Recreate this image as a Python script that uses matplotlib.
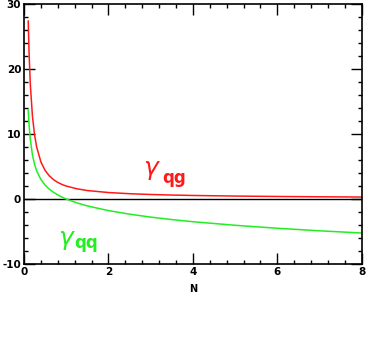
import matplotlib
matplotlib.use("Agg")
import matplotlib.pyplot as plt
from matplotlib.ticker import MultipleLocator

plt.rcParams["axes.unicode_minus"] = False

# values
N = [0.1, 0.12, 0.15, 0.2, 0.25, 0.3, 0.4, 0.5, 0.6, 0.7, 0.8, 0.9, 1.0,
     1.25, 1.5, 2.0, 2.5, 3.0, 3.5, 4.0, 5.0, 6.0, 7.0, 8.0]
gamma_qg = [27.40, 22.47, 17.57, 12.73, 9.87, 7.99, 5.71, 4.40, 3.56, 2.98,
            2.56, 2.24, 2.00, 1.58, 1.31, 1.00, 0.82, 0.70, 0.615, 0.55,
            0.457, 0.393, 0.345, 0.308]
gamma_qq = [13.71, 11.44, 9.14, 6.79, 5.33, 4.33, 3.01, 2.14, 1.51, 1.03,
            0.63, 0.29, 0.0, -0.59, -1.06, -1.78, -2.33, -2.78, -3.16, -3.49,
            -4.04, -4.50, -4.89, -5.23]

red = "#ff1a1a"
green = "#22ee22"

fig = plt.figure(figsize=(3.66, 3.46), dpi=100)
ax = fig.add_axes([0.0656, 0.237, 0.923, 0.751])

ax.axhline(0, color="black", lw=1.0)
ax.plot(N, gamma_qg, color=red, lw=1.1)
ax.plot(N, gamma_qq, color=green, lw=1.1)

ax.set_xlim(0, 8)
ax.set_ylim(-10, 30)
ax.xaxis.set_major_locator(MultipleLocator(2))
ax.xaxis.set_minor_locator(MultipleLocator(0.4))
ax.yaxis.set_major_locator(MultipleLocator(10))
ax.yaxis.set_minor_locator(MultipleLocator(2))
ax.tick_params(which="both", direction="in", top=True, right=True,
               width=1.0, labelsize=7.5, pad=2)
ax.tick_params(which="major", length=8)
ax.tick_params(which="minor", length=3)
for lab in ax.get_xticklabels() + ax.get_yticklabels():
    lab.set_fontweight("bold")
for s in ax.spines.values():
    s.set_linewidth(1.2)

ax.set_xlabel("N", fontsize=7, fontweight="bold", labelpad=5)

# curve labels: gamma plus a large subscript
ax.text(2.81, 3.7, "γ", color=red, fontsize=18, style="italic", va="baseline")
ax.text(3.28, 2.5, "qg", color=red, fontsize=12, fontweight="bold",
        va="baseline")
ax.text(0.80, -7.0, "γ", color=green, fontsize=18, style="italic", va="baseline")
ax.text(1.18, -7.6, "qq", color=green, fontsize=12, fontweight="bold",
        va="baseline")

fig.savefig("out.png", dpi=100)
